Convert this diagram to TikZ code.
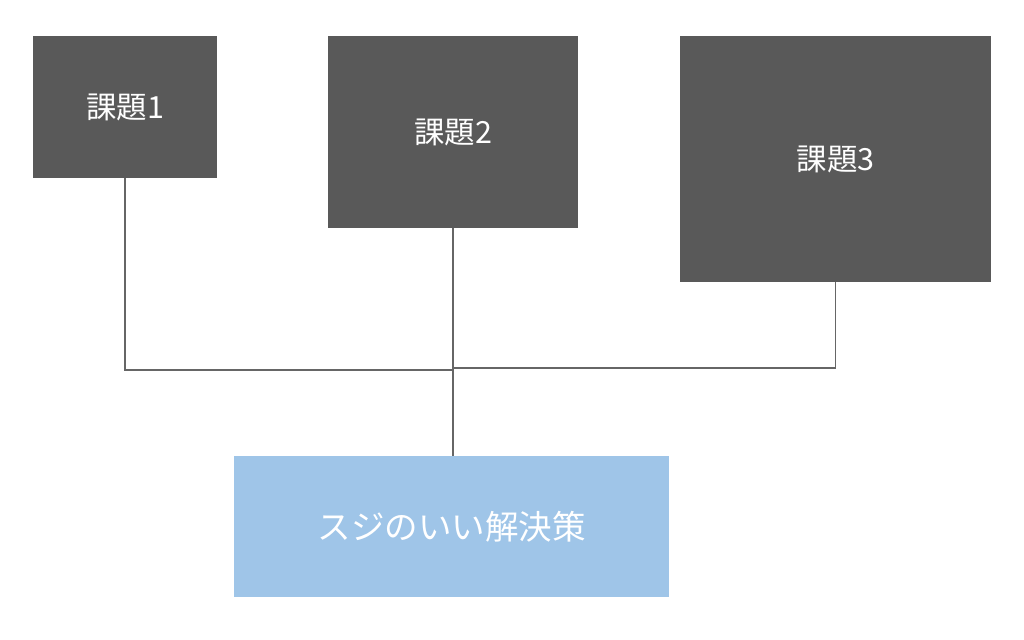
\documentclass[tikz,border=0pt]{standalone}
\usepackage{fontspec}
\setmainfont{Noto Sans CJK JP}
\usetikzlibrary{positioning}

\tikzset{
  kadai/.style={fill=darkbox, text=white, font=\fontsize{30.5}{32}\selectfont, inner sep=0pt},
  kaiketsu/.style={fill=lightblue, text=white, font=\fontsize{33.5}{36}\selectfont, inner sep=0pt},
  link/.style={draw=linegray, line width=1.5pt}
}
\definecolor{darkbox}{HTML}{595959}
\definecolor{lightblue}{HTML}{9FC5E8}
\definecolor{linegray}{HTML}{666666}

\begin{document}
\begin{tikzpicture}[x=1pt, y=-1pt]
\useasboundingbox (0,0) rectangle (1024,639);
% tasks
\node [kadai, minimum width=184pt, minimum height=142pt] (k1) at (125,107) {課題1};
\node [kadai, minimum width=250pt, minimum height=192pt] (k2) at (453,132) {課題2};
\node [kadai, minimum width=311pt, minimum height=246pt] (k3) at (835.5,159) {課題3};
% solution
\node [kaiketsu, minimum width=435pt, minimum height=141pt] (sol) at (451.5,526.5) {スジのいい解決策};
% connectors
\coordinate (hubL) at (453,370);
\coordinate (hubR) at (453,368);
\draw [link] (k1.south) |- (hubL);
\draw [link] (k3.south) |- (hubR);
\draw [link] (k2.south) -- (k2.south |- sol.north);
\end{tikzpicture}
\end{document}
